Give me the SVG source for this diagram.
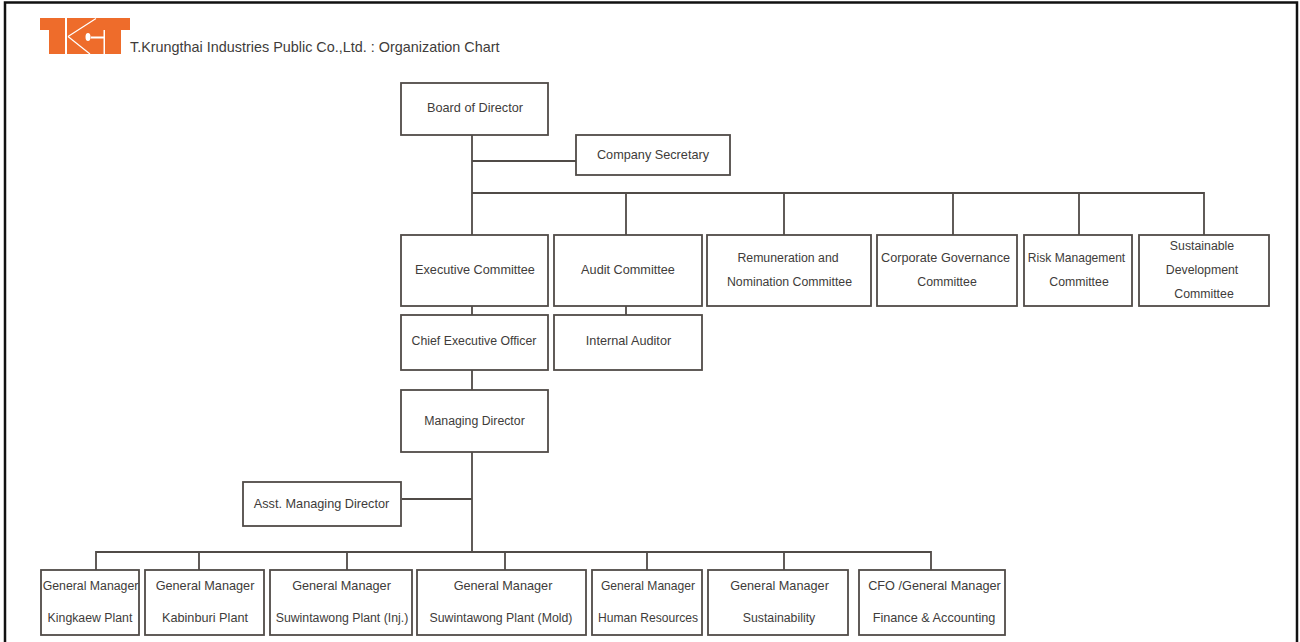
<svg xmlns="http://www.w3.org/2000/svg" width="1300" height="642" viewBox="0 0 1300 642">
<style>
.b{fill:#fff;stroke:#504b47;stroke-width:1.8}
.c{fill:none;stroke:#504b47;stroke-width:1.8}
text{font-family:"Liberation Sans",Arial,sans-serif;font-size:12.3px;fill:#403c3a;text-anchor:middle}
.w{font-size:12.7px}
.n{font-size:12.1px}
.t{font-size:14.4px;text-anchor:start}
</style>
<rect width="1300" height="642" fill="#fff"/>
<path d="M5 642V2.500H1297V642" fill="none" stroke="#111" stroke-width="2.500"/>
<g id="logo">
<path fill="#ee6c2b" d="M40 18H65V54H49V30H40Z"/>
<path fill="#ee6c2b" d="M67 18H130V30H121V54H67Z"/>
<path fill="none" stroke="#fff" stroke-width="1.200" d="M68 36.500L96 18.500M68 36.500L90 54"/>
<path fill="#fff" d="M85.500 37a2.500 4 0 1 0 5 0a2.500 4 0 1 0-5 0ZM90 36.500H104V38.500H90ZM103.500 30H105V54H103.500Z"/>
</g>
<text class="t" x="130" y="52">T.Krungthai Industries Public Co.,Ltd. : Organization Chart</text>
<g id="connectors">
<path class="c" d="M472 135V235M472 161H576M472 193H1204V235M626 193V235M784 193V235M953 193V235M1079 193V235M472 306V315M626 306V315M472 370V390M472 452V552M402 499H472M96 578V552H931V578M199 552V578M347 552V578M505 552V578M647 552V578M784 552V578"/>
</g>
<g id="board"><rect class="b" x="401" y="83" width="147" height="52"/><text class="w" x="475" y="112">Board of Director</text></g>
<g id="secretary"><rect class="b" x="576" y="135" width="154" height="40"/><text class="w" x="653" y="159">Company Secretary</text></g>
<g id="exec"><rect class="b" x="401" y="235" width="147" height="71"/><text class="w" x="475" y="274">Executive Committee</text></g>
<g id="audit"><rect class="b" x="554" y="235" width="148" height="71"/><text class="w" x="628" y="274">Audit Committee</text></g>
<g id="remuneration"><rect class="b" x="707" y="235" width="164" height="71"/><text x="788" y="262">Remuneration and</text><text x="789.500" y="286">Nomination Committee</text></g>
<g id="governance"><rect class="b" x="877" y="235" width="140" height="71"/><text class="w" x="945.500" y="262">Corporate Governance</text><text x="947" y="286">Committee</text></g>
<g id="risk"><rect class="b" x="1024" y="235" width="108" height="71"/><text class="n" x="1076.500" y="262">Risk Management</text><text x="1079" y="286">Committee</text></g>
<g id="sustainable"><rect class="b" x="1139" y="235" width="130" height="71"/><text x="1202" y="250">Sustainable</text><text x="1202" y="274">Development</text><text x="1204" y="298">Committee</text></g>
<g id="ceo"><rect class="b" x="401" y="315" width="147" height="55"/><text x="474" y="345">Chief Executive Officer</text></g>
<g id="auditor"><rect class="b" x="554" y="315" width="148" height="55"/><text class="w" x="628.500" y="345">Internal Auditor</text></g>
<g id="md"><rect class="b" x="401" y="390" width="147" height="62"/><text x="474.500" y="425">Managing Director</text></g>
<g id="asst"><rect class="b" x="243" y="482" width="158" height="44"/><text class="w" x="321.500" y="508">Asst. Managing Director</text></g>
<g id="gm1"><rect class="b" x="41" y="570" width="98" height="65"/><text x="90.500" y="590">General Manager</text><text x="90" y="622">Kingkaew Plant</text></g>
<g id="gm2"><rect class="b" x="145" y="570" width="119" height="65"/><text class="w" x="205" y="590">General Manager</text><text class="w" x="205" y="622">Kabinburi Plant</text></g>
<g id="gm3"><rect class="b" x="270" y="570" width="142" height="65"/><text class="w" x="341.500" y="590">General Manager</text><text x="342" y="622">Suwintawong Plant (Inj.)</text></g>
<g id="gm4"><rect class="b" x="417" y="570" width="169" height="65"/><text class="w" x="503" y="590">General Manager</text><text x="501" y="622">Suwintawong Plant (Mold)</text></g>
<g id="gm5"><rect class="b" x="592" y="570" width="110" height="65"/><text class="n" x="648" y="590">General Manager</text><text class="n" x="648" y="622">Human Resources</text></g>
<g id="gm6"><rect class="b" x="708" y="570" width="140" height="65"/><text class="w" x="779.500" y="590">General Manager</text><text x="779" y="622">Sustainability</text></g>
<g id="gm7"><rect class="b" x="859" y="570" width="146" height="65"/><text class="w" x="934.500" y="590">CFO /General Manager</text><text class="w" x="934" y="622">Finance &amp; Accounting</text></g>
</svg>
